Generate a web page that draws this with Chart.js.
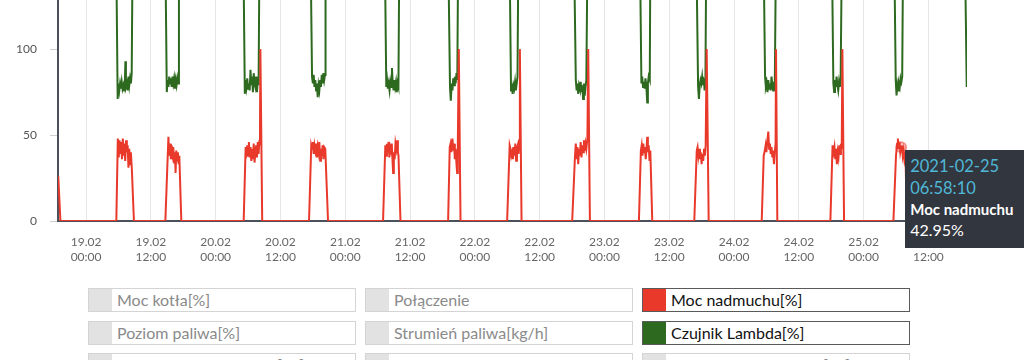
<!DOCTYPE html>
<html><head><meta charset="utf-8">
<script src="https://cdn.jsdelivr.net/npm/chart.js@4/dist/chart.umd.min.js"></script>
<style>
html,body{margin:0;padding:0;width:1024px;height:360px;overflow:hidden;background:#fff;font-family:Lato,"Noto Sans",sans-serif;}
#wrap{position:absolute;left:0;top:-57px;width:1024px;height:335px;}
#tip{position:absolute;display:none;background:#32363e;color:#fff;padding:5px 16px 8px 5px;white-space:nowrap;pointer-events:none;font-family:Lato,sans-serif;}
#tip .t{color:#4fb8d8;font-size:16.5px;line-height:22px;}
#tip .l{font-size:15px;font-weight:bold;line-height:21px;}
#tip .v{font-size:16px;line-height:20px;}
#legend{position:absolute;left:88px;top:288px;display:grid;grid-template-columns:repeat(3,268px);column-gap:9px;row-gap:8.5px;}
.item{box-sizing:border-box;height:24px;border:1px solid #d4d4d4;display:flex;align-items:stretch;}
.item .sw{width:23px;background:#e2e2e2;}
.item .lb{padding-left:5px;font-size:16px;line-height:22px;color:#8a8a8a;}
.item.on{border-color:#5a5a5a;}
.item.on .lb{color:#111;}
</style></head>
<body>
<div id="wrap"><canvas id="c" width="1024" height="335"></canvas></div>
<div id="tip"></div>
<div id="legend"></div>
<script>
// ---- data (hours since 2021-02-19 00:00) ----
const blowerHours = [-5.15,-4.75,
 5.60,5.88,6.05,6.2,6.35,6.5,6.65,6.8,6.95,7.1,7.25,7.4,7.55,7.7,7.85,8.0,8.15,8.3,8.48,8.86,
 14.68,15.25,15.4,15.55,15.7,15.85,16.0,16.15,16.3,16.45,16.58,16.7,16.85,17.0,17.15,17.27,17.64,
 29.19,29.55,29.7,29.85,30.0,30.15,30.3,30.45,30.6,30.75,30.9,31.05,31.2,31.35,31.5,31.65,31.8,31.95,32.1,32.2,32.28,32.62,
 41.29,41.7,41.85,42.0,42.15,42.3,42.45,42.6,42.75,42.9,43.05,43.2,43.35,43.5,43.65,43.8,43.95,44.1,44.3,44.81,
 55.0,55.42,55.57,55.72,55.87,56.02,56.17,56.32,56.47,56.62,56.77,56.87,57.0,57.15,57.3,57.45,57.6,57.75,57.86,58.23,
 67.05,67.35,67.5,67.65,67.85,68.0,68.15,68.3,68.45,68.6,68.72,68.85,69.03,69.35,
 77.98,78.45,78.6,78.75,78.9,79.05,79.2,79.35,79.5,79.65,79.8,79.95,80.1,80.25,80.34,80.65,
 90.03,90.55,90.7,90.85,91.0,91.15,91.3,91.45,91.6,91.75,91.9,92.05,92.2,92.35,92.5,92.65,92.85,93.0,93.31,
 102.39,102.75,102.9,103.05,103.2,103.35,103.5,103.65,103.8,103.93,104.05,104.2,104.35,104.5,104.86,
 112.64,113.1,113.25,113.4,113.55,113.7,113.85,114.0,114.15,114.3,114.45,114.6,114.75,114.94,115.31,
 125.13,125.5,125.7,125.85,126.0,126.15,126.35,126.5,126.65,126.8,126.95,127.1,127.25,127.4,127.55,127.7,127.78,128.02,
 137.85,138.25,138.45,138.6,138.75,138.9,139.05,139.2,139.35,139.5,139.65,139.8,139.95,140.07,140.38,
 149.52,150.0,150.2,150.35,150.5,150.65,150.8,150.9694,151.1,151.25,151.4,151.55,151.75,152.0,163.1];
const blowerValues = [26,0,
 0,48,37,47,39,46,36,48,38,45,35,47,40,44,31,42,33,40,30,0,
 0,49,38,45,36,44,39,43,34,40,28,41,35,40,33,38,0,
 0,43,40,44,38,46,37,43,35,42,36,45,34,40,44,37,46,39,47,44,100,0,
 0,44,42,46,39,44,41,45,37,43,40,46,35,42,38,44,36,43,42,0,
 0,44,38,45,40,46,37,43,41,45,34,28,40,36,45,42,47,40,38,0,
 0,43,45,40,48,41,45,36,42,33,28,45,100,0,
 0,44,42,38,40,36,43,38,45,35,42,44,39,47,100,0,
 0,38,45,36,43,33,42,38,46,37,44,40,47,41,45,42,48,100,0,
 0,41,44,38,45,40,43,36,42,49,40,44,35,41,0,
 0,41,43,38,42,36,40,33,39,35,42,38,44,100,0,
 0,38,41,44,40,46,52,42,45,39,43,37,41,33,40,45,100,0,
 0,44,40,43,36,42,33,40,37,44,39,45,42,100,0,
 0,38,45,48,42,46,40,42.95,44,38,41,36,40,0,0];

const lambdaHours = [-5.15,
 5.6,5.85,6.0,6.15,6.3,6.45,6.6,6.75,6.9,7.05,7.2,7.28,7.38,7.55,7.7,7.85,8.0,8.15,8.3,8.45,8.6,
 14.7,14.95,15.1,15.25,15.4,15.55,15.7,15.85,16.0,16.15,16.3,16.45,16.6,16.75,16.9,17.05,17.2,
 29.15,29.4,29.55,29.7,29.85,30.0,30.15,30.3,30.45,30.6,30.75,30.9,31.05,31.2,31.35,31.5,31.65,31.8,31.95,32.1,
 41.6,41.85,42.0,42.15,42.3,42.45,42.6,42.75,42.9,43.05,43.2,43.35,43.5,43.65,43.8,43.95,44.1,44.25,44.35,
 55.35,55.6,55.75,55.9,56.05,56.2,56.35,56.5,56.65,56.8,56.95,57.1,57.25,57.4,57.55,57.7,57.85,58.0,
 67.1,67.4,67.55,67.7,67.85,68.0,68.15,68.3,68.45,68.6,68.75,68.9,
 78.45,78.7,78.85,79.0,79.15,79.3,79.45,79.6,79.75,79.9,80.05,
 90.4,90.7,90.85,91.0,91.15,91.3,91.45,91.6,91.75,91.9,92.05,92.2,92.35,92.5,92.65,92.85,
 102.6,102.85,103.0,103.15,103.3,103.45,103.6,103.75,103.93,104.05,104.2,104.4,104.5,
 113.05,113.35,113.5,113.65,113.8,113.95,114.1,114.25,114.4,114.55,114.7,114.85,
 125.5,125.75,125.9,126.05,126.2,126.35,126.5,126.65,126.8,126.95,127.1,127.25,127.4,127.55,127.75,
 138.15,138.4,138.55,138.7,138.85,139.0,139.15,139.3,139.45,139.6,139.75,139.95,
 149.7,149.95,150.1,150.25,150.4,150.55,150.7,150.85,151.0,151.15,151.3,
 162.8,163.1];
const lambdaValues = [150,
 150,71,80,76,80,77,81,77,79,76,82,93,78,80,76,84,79,83,80,86,150,
 150,75,82,78,84,80,83,78,84,80,83,77,82,79,83,80,150,
 150,74,82,78,83,77,80,76,88,79,84,75,86,80,78,84,75,83,79,150,
 150,84,80,85,78,82,76,80,72,79,76,82,78,85,80,86,82,85,150,
 150,78,82,77,80,76,81,78,89,80,76,82,78,81,75,80,78,150,
 150,78,70,80,76,83,79,84,80,86,82,150,
 150,76,80,74,79,77,81,76,80,84,150,
 150,82,76,80,74,79,77,81,75,79,71,80,73,78,82,150,
 150,80,84,78,81,77,83,79,69,80,84,82,150,
 150,78,71,79,82,80,84,79,83,76,80,150,
 150,84,78,80,75,82,77,80,76,84,79,76,81,78,150,
 150,80,75,82,78,84,79,76,81,78,83,150,
 150,82,73,79,76,80,78,83,81,84,150,
 150,78];

const tickHours = [0,12,24,36,48,60,72,84,96,108,120,132,144,156];
const tickLabels = [["19.02","00:00"],["19.02","12:00"],["20.02","00:00"],["20.02","12:00"],["21.02","00:00"],["21.02","12:00"],["22.02","00:00"],["22.02","12:00"],["23.02","00:00"],["23.02","12:00"],["24.02","00:00"],["24.02","12:00"],["25.02","00:00"],["25.02","12:00"]];
const yTicks = [0,50,100,150];

const legendNames = ["Moc kotła[%]","Połączenie","Moc nadmuchu[%]","Poziom paliwa[%]","Strumień paliwa[kg/h]","Czujnik Lambda[%]","Temperatura podajnika[°C]","Tryb pracy","Temperatura powrotu[°C]"];
const legendColors = [null,null,"#e8392b",null,null,"#2d6a1f",null,null,null];

const tooltipHour = 150.9694;
// ---------------------------------------------

const RED = "#e8392b", GREEN = "#2d6a1f";
const baseDate = Date.UTC(2021,1,19,0,0,0);
function pad(n){return String(n).padStart(2,'0');}
function fmt(h){
  const d = new Date(baseDate + Math.round(h*3600)*1000);
  return [d.getUTCFullYear()+"-"+pad(d.getUTCMonth()+1)+"-"+pad(d.getUTCDate()), pad(d.getUTCHours())+":"+pad(d.getUTCMinutes())+":"+pad(d.getUTCSeconds())];
}

const lg = document.getElementById('legend');
legendNames.forEach((n,i)=>{
  const it = document.createElement('div');
  it.className = 'item' + (legendColors[i] ? ' on' : '');
  const sw = document.createElement('div'); sw.className='sw';
  if (legendColors[i]) sw.style.background = legendColors[i];
  const lb = document.createElement('div'); lb.className='lb'; lb.textContent = n;
  it.appendChild(sw); it.appendChild(lb); lg.appendChild(it);
});

const wrap = document.getElementById('wrap');
const tip = document.getElementById('tip');
function externalTip(ctx){
  const t = ctx.tooltip;
  if (!t || t.opacity === 0 || !t.dataPoints || !t.dataPoints.length){ tip.style.display='none'; return; }
  const dp = t.dataPoints[0];
  const [d, tm] = fmt(dp.parsed.x);
  tip.innerHTML = '<div class="t">'+d+'</div><div class="t">'+tm+'</div><div class="l">'+dp.dataset.shortLabel+'</div><div class="v">'+dp.parsed.y.toFixed(2)+'%</div>';
  tip.style.display='block';
  tip.style.left = (wrap.offsetLeft + t.caretX + 4) + 'px';
  tip.style.top = (wrap.offsetTop + t.caretY + 3) + 'px';
}

const chart = new Chart(document.getElementById('c'), {
  type: 'line',
  data: {
    datasets: [
      { label: 'Moc nadmuchu[%]', shortLabel: 'Moc nadmuchu', data: blowerHours.map((h,i)=>({x:h,y:blowerValues[i]})),
        borderColor: RED, borderWidth: 2, pointRadius: 0, pointHoverRadius: 5, pointHoverBorderWidth: 2,
        pointHoverBorderColor: 'rgba(232,57,43,0.45)', pointHoverBackgroundColor: 'rgba(232,57,43,0.3)', tension: 0, fill: false },
      { label: 'Czujnik Lambda[%]', shortLabel: 'Czujnik Lambda', data: lambdaHours.map((h,i)=>({x:h,y:lambdaValues[i]})),
        borderColor: GREEN, borderWidth: 2, pointRadius: 0, pointHoverRadius: 0, tension: 0, fill: false }
    ]
  },
  options: {
    responsive: false, animation: false, devicePixelRatio: 1,
    layout: { padding: { left: 0, right: 57, top: 0, bottom: 0 } },
    plugins: { legend: { display: false }, tooltip: { enabled: false, external: externalTip } },
    scales: {
      x: {
        type: 'linear', min: -5.2, max: 163.15,
        afterBuildTicks: s => { s.ticks = tickHours.map(v=>({value:v})); },
        ticks: { autoSkip: false, maxRotation: 0, padding: 13.5, color: '#666',
          font: { family: 'Lato', size: 12, lineHeight: 1.25 },
          callback: (v, i) => tickLabels[i] },
        grid: { color: '#e6e6e6', lineWidth: 1, drawTicks: false },
        border: { color: '#4b515a', width: 2 }
      },
      y: {
        min: 0, max: 150,
        afterBuildTicks: s => { s.ticks = yTicks.map(v=>({value:v})); },
        afterFit: s => { s.width = 58; },
        ticks: { padding: 13, color: '#555', font: { family: 'Lato', size: 12 } },
        grid: { drawOnChartArea: false, drawTicks: true, tickLength: 8, tickColor: '#cfcfcf' },
        border: { color: '#4b515a', width: 2 }
      }
    }
  }
});

const idx = blowerHours.indexOf(tooltipHour);
const pt = chart.getDatasetMeta(0).data[idx];
chart.setActiveElements([{datasetIndex:0, index: idx}]);
chart.tooltip.setActiveElements([{datasetIndex:0, index: idx}], {x: pt.x, y: pt.y});
chart.update();
</script>
</body></html>
